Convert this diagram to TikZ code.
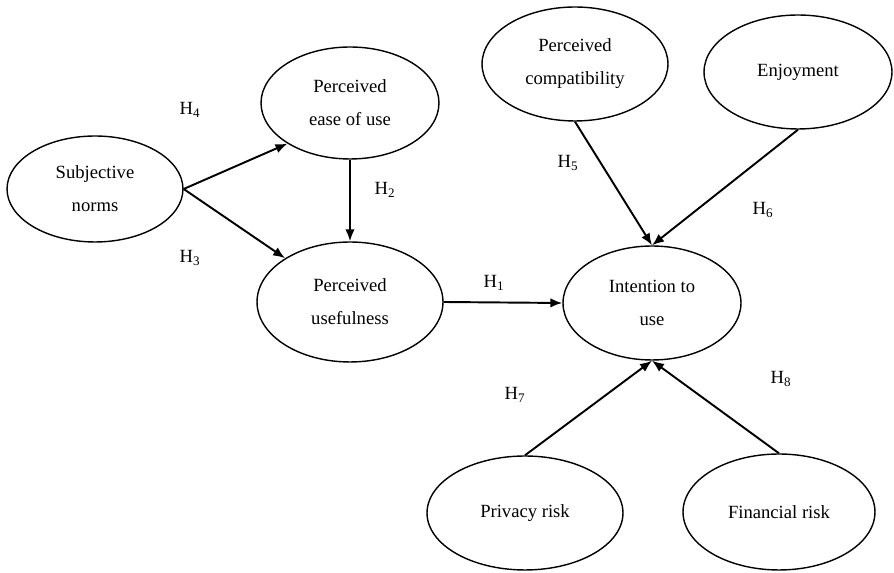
\documentclass[tikz,border=0pt]{standalone}
\usepackage{fontspec}
\setmainfont{Liberation Serif}
\usetikzlibrary{arrows.meta,shapes.geometric}

\begin{document}
\begin{tikzpicture}[x=0.02cm,y=-0.02cm,
  construct/.style={draw,ellipse,line width=0.8pt,inner sep=0pt,align=center,
    font=\fontsize{10.6}{18.8}\selectfont},
  hyp/.style={-{Latex[length=2.4mm,width=1.9mm]},line width=1.1pt},
  hlab/.style={font=\fontsize{10.6}{12}\selectfont}]
  \useasboundingbox (0,0) rectangle (894,573);
  \node[construct,minimum width=3.52cm,minimum height=2.12cm] (sn) at (95,189) {Subjective\\norms};
  \node[construct,minimum width=3.56cm,minimum height=2.24cm] (peou) at (350,103) {Perceived\\ease of use};
  \node[construct,minimum width=3.72cm,minimum height=2.4cm] (pu) at (350,302) {Perceived\\usefulness};
  \node[construct,minimum width=3.56cm,minimum height=2.28cm] (itu) at (652,303) {Intention to\\use};
  \node[construct,minimum width=3.72cm,minimum height=2.28cm] (pc) at (575,64) {Perceived\\compatibility};
  \node[construct,minimum width=3.76cm,minimum height=2.28cm] (enj) at (798,72) {Enjoyment};
  \node[construct,minimum width=3.92cm,minimum height=2.28cm] (pr) at (525,513) {Privacy risk};
  \node[construct,minimum width=3.84cm,minimum height=2.32cm] (fr) at (779,512) {Financial risk};
  % hypothesis labels
  \node[hlab] (h1) at (494,283) {H\textsubscript{1}};
  \node[hlab] (h2) at (385,190) {H\textsubscript{2}};
  \node[hlab] (h3) at (190,258) {H\textsubscript{3}};
  \node[hlab] (h4) at (190,110) {H\textsubscript{4}};
  \node[hlab] (h5) at (568,163) {H\textsubscript{5}};
  \node[hlab] (h6) at (763,210) {H\textsubscript{6}};
  \node[hlab] (h7) at (515,395) {H\textsubscript{7}};
  \node[hlab] (h8) at (781,379) {H\textsubscript{8}};
  \draw[hyp] (sn.east) -- (peou.213);
  \draw[hyp] (sn.east) -- (pu.146);
  \draw[hyp] (peou.south) -- (pu.north);
  \draw[hyp] (pu.east) -- (itu.west);
  \draw[hyp] (pc.south) -- (itu.north);
  \draw[hyp] (enj.south) -- (itu.north);
  \draw[hyp] (pr.north) -- (itu.south);
  \draw[hyp] (fr.north) -- (itu.south);
\end{tikzpicture}
\end{document}
